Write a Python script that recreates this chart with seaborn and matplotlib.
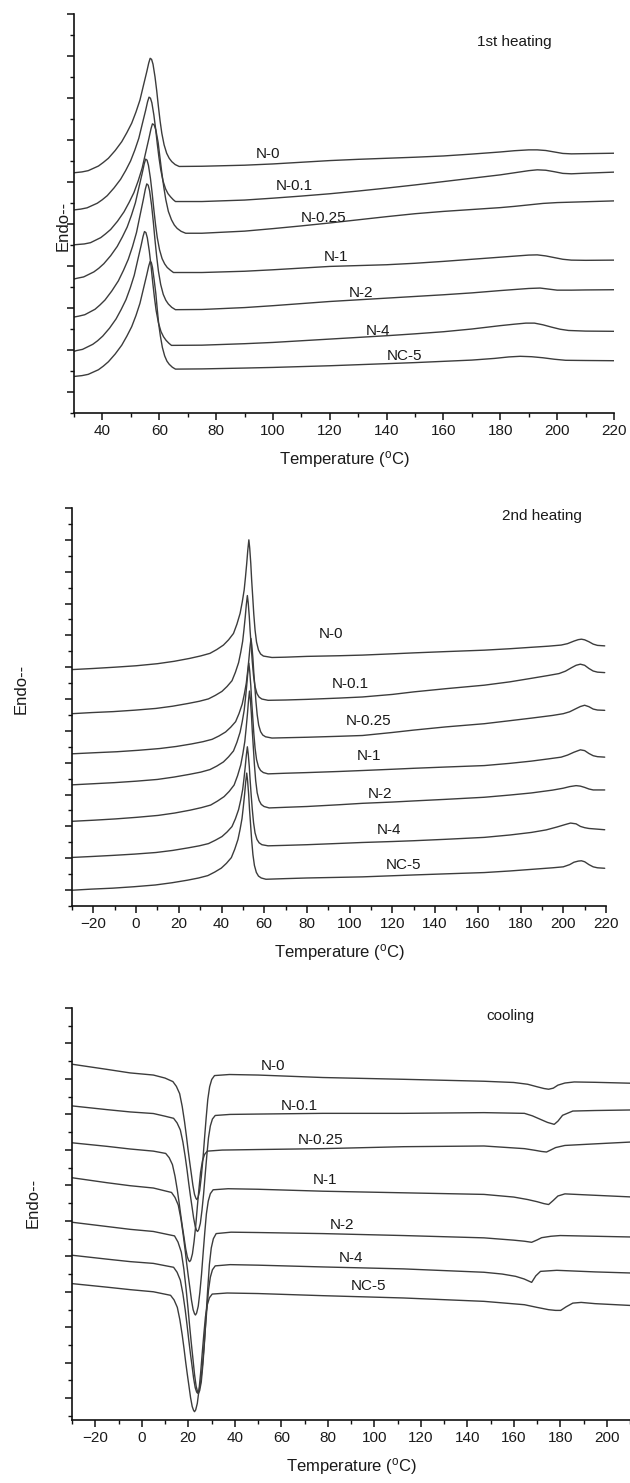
import numpy as np
import pandas as pd
import matplotlib
matplotlib.use("Agg")
import matplotlib.pyplot as plt
import seaborn as sns

samples = ["N-0", "N-0.1", "N-0.25", "N-1", "N-2", "N-4", "NC-5"]

# ---------------- 1st heating ----------------
h1_t_n0 = [30, 32.8, 35.0, 38.6, 40.3, 42.1, 44.5, 46.8, 48.6, 50.3, 51.8, 53.2, 54.4, 55.6, 56.3, 56.8,
           57.3, 57.8, 58.5, 59.1, 59.7, 60.3, 60.9, 61.7, 62.6, 63.5, 64.4, 65.6, 67.0,
           75, 90, 100, 110, 120, 130, 140, 150, 160, 170, 180, 185, 190, 193, 196, 199, 202, 205, 210, 220]
h1_y_n0 = [10.44, 10.48, 10.54, 10.76, 10.93, 11.13, 11.50, 11.92, 12.35, 12.80, 13.33, 13.90, 14.58, 15.25, 15.67, 15.89,
           15.84, 15.61, 15.01, 14.35, 13.59, 12.90, 12.32, 11.77, 11.37, 11.13, 10.97, 10.83, 10.74,
           10.75, 10.80, 10.86, 10.94, 11.02, 11.08, 11.13, 11.18, 11.24, 11.33, 11.43, 11.49, 11.53, 11.53, 11.50, 11.43, 11.36, 11.34, 11.35, 11.37]
h1_t_n01 = [30, 32.4, 34.6, 38.2, 39.9, 41.7, 44.1, 46.4, 48.2, 49.9, 51.4, 52.8, 54.0, 55.2, 55.9, 56.4,
            56.9, 57.4, 58.1, 58.7, 59.3, 59.9, 60.5, 61.3, 62.2, 63.1, 64.0, 64.9, 65.7,
            75, 90, 100, 110, 120, 130, 140, 150, 160, 170, 180, 185, 190, 193, 196, 199, 202, 205, 210, 220]
h1_y_n01 = [8.67, 8.71, 8.77, 8.99, 9.15, 9.35, 9.72, 10.13, 10.55, 11.00, 11.52, 12.08, 12.75, 13.41, 13.83, 14.04,
            13.99, 13.77, 13.19, 12.55, 11.82, 11.16, 10.60, 10.06, 9.68, 9.44, 9.29, 9.16, 9.07,
            9.07, 9.14, 9.23, 9.33, 9.44, 9.57, 9.71, 9.86, 10.02, 10.18, 10.34, 10.44, 10.54, 10.58, 10.56, 10.49, 10.41, 10.39, 10.42, 10.47]
h1_t_n025 = [30, 33.6, 35.8, 39.4, 41.1, 42.9, 45.3, 47.6, 49.4, 51.1, 52.6, 54.0, 55.2, 56.4, 57.1, 57.6,
             58.2, 58.8, 59.6, 60.2, 60.9, 61.6, 62.3, 63.2, 64.3, 65.3, 66.3, 67.7, 69.3,
             75, 90, 100, 110, 120, 130, 140, 150, 160, 170, 180, 185, 190, 195, 200, 210, 220]
h1_y_n025 = [7.01, 7.05, 7.11, 7.35, 7.53, 7.74, 8.13, 8.58, 9.03, 9.50, 10.06, 10.67, 11.39, 12.10, 12.54, 12.77,
             12.72, 12.48, 11.88, 11.21, 10.44, 9.75, 9.16, 8.60, 8.20, 7.95, 7.79, 7.65, 7.56,
             7.56, 7.66, 7.78, 7.91, 8.05, 8.20, 8.35, 8.49, 8.60, 8.69, 8.78, 8.84, 8.91, 8.98, 9.02, 9.06, 9.10]
h1_t_n1 = [30, 31.2, 33.4, 37.0, 38.7, 40.5, 42.9, 45.2, 47.0, 48.7, 50.2, 51.6, 52.8, 54.0, 54.7, 55.2,
           55.7, 56.2, 56.9, 57.5, 58.1, 58.7, 59.3, 60.1, 61.0, 61.9, 62.8, 64.0, 65.0,
           75, 90, 100, 110, 120, 130, 140, 150, 160, 170, 180, 185, 190, 193, 196, 199, 202, 205, 210, 220]
h1_y_n1 = [5.38, 5.42, 5.48, 5.72, 5.89, 6.11, 6.49, 6.93, 7.38, 7.85, 8.41, 9.01, 9.72, 10.42, 10.86, 11.09,
           11.04, 10.79, 10.17, 9.47, 8.68, 7.96, 7.35, 6.77, 6.35, 6.10, 5.93, 5.79, 5.69,
           5.69, 5.75, 5.82, 5.90, 5.98, 6.02, 6.06, 6.13, 6.22, 6.32, 6.42, 6.47, 6.52, 6.53, 6.48, 6.40, 6.32, 6.28, 6.27, 6.28]
h1_t_n2 = [30, 31.6, 33.8, 37.4, 39.1, 40.9, 43.3, 45.6, 47.4, 49.1, 50.6, 52.0, 53.2, 54.4, 55.1, 55.6,
           56.1, 56.6, 57.3, 57.9, 58.5, 59.1, 59.7, 60.5, 61.4, 62.3, 63.2, 64.4, 65.7,
           75, 90, 100, 110, 120, 130, 140, 150, 160, 170, 180, 185, 190, 194, 197, 200, 205, 210, 220]
h1_y_n2 = [3.57, 3.61, 3.68, 3.94, 4.14, 4.38, 4.81, 5.29, 5.79, 6.32, 6.93, 7.60, 8.39, 9.17, 9.66, 9.91,
           9.85, 9.58, 8.89, 8.11, 7.23, 6.44, 5.76, 5.12, 4.65, 4.37, 4.19, 4.03, 3.92,
           3.93, 4.02, 4.11, 4.21, 4.31, 4.39, 4.47, 4.55, 4.63, 4.72, 4.83, 4.88, 4.93, 4.95, 4.90, 4.85, 4.85, 4.86, 4.87]
h1_t_n4 = [30, 30.8, 33.0, 36.6, 38.3, 40.1, 42.5, 44.8, 46.6, 48.3, 49.8, 51.2, 52.4, 53.6, 54.3, 54.8,
           55.3, 55.8, 56.5, 57.1, 57.7, 58.3, 58.9, 59.7, 60.6, 61.5, 62.4, 63.4, 64.3,
           75, 90, 100, 110, 120, 130, 140, 150, 160, 170, 180, 185, 189, 192, 195, 198, 201, 204, 210, 220]
h1_y_n4 = [1.93, 1.97, 2.03, 2.27, 2.44, 2.66, 3.04, 3.48, 3.93, 4.40, 4.96, 5.56, 6.27, 6.97, 7.41, 7.64,
           7.59, 7.34, 6.71, 6.01, 5.22, 4.50, 3.88, 3.30, 2.88, 2.63, 2.46, 2.32, 2.22,
           2.23, 2.30, 2.36, 2.44, 2.52, 2.60, 2.68, 2.77, 2.87, 3.00, 3.16, 3.23, 3.28, 3.28, 3.20, 3.09, 2.99, 2.93, 2.90, 2.89]
h1_t_nc5 = [30, 32.8, 35.0, 38.6, 40.3, 42.1, 44.5, 46.8, 48.6, 50.3, 51.8, 53.2, 54.4, 55.6, 56.3, 56.8,
            57.2, 57.6, 58.2, 58.8, 59.3, 59.8, 60.4, 61.1, 61.9, 62.7, 63.5, 64.6, 65.7,
            75, 90, 100, 110, 120, 130, 140, 150, 160, 170, 178, 183, 187, 191, 195, 199, 203, 210, 220]
h1_y_nc5 = [0.74, 0.78, 0.84, 1.06, 1.23, 1.44, 1.81, 2.23, 2.66, 3.11, 3.64, 4.22, 4.90, 5.58, 6.00, 6.22,
            6.17, 5.94, 5.34, 4.68, 3.93, 3.24, 2.66, 2.12, 1.72, 1.47, 1.32, 1.18, 1.09,
            1.10, 1.14, 1.17, 1.21, 1.25, 1.30, 1.35, 1.40, 1.46, 1.52, 1.60, 1.67, 1.70, 1.68, 1.63, 1.56, 1.51, 1.50, 1.49]
h1_label_t = [94, 100.9, 109.8, 117.8, 126.6, 132.5, 139.9]
h1_label_y = [11.34, 9.82, 8.28, 6.45, 4.71, 2.92, 1.73]

# ---------------- 2nd heating ----------------
h2_t_n0 = [-30, -20, -10, 0, 10, 17.8, 25, 30.3, 34.6, 37.8, 40.9, 43.3, 45.6, 47.2, 48.7, 49.7, 50.6, 51.2, 51.8, 52.3, 52.8,
           53.2, 53.7, 54.1, 54.6, 55.1, 55.7, 56.4, 57.3, 58.3, 59.6, 63.6,
           70, 80, 95, 106, 120, 130, 145, 163, 175, 185, 193, 199, 202, 205, 207, 208.5, 210, 212, 214, 216, 219.4]
h2_y_n0 = [13.85, 13.92, 14.00, 14.09, 14.22, 14.37, 14.55, 14.71, 14.87, 15.11, 15.39, 15.72, 16.12, 16.70, 17.38, 18.09, 18.85, 19.64, 20.52, 21.35, 22.0,
           21.48, 20.52, 19.49, 18.43, 17.34, 16.33, 15.57, 15.08, 14.83, 14.70, 14.61,
           14.63, 14.68, 14.72, 14.76, 14.84, 14.90, 14.98, 15.07, 15.16, 15.25, 15.32, 15.39, 15.48, 15.64, 15.73, 15.76, 15.72, 15.60, 15.45, 15.37, 15.34]
h2_t_n01 = [-30, -20.7, -10.7, -0.7, 9.3, 17.1, 24.3, 29.6, 33.9, 37.1, 40.2, 42.6, 44.9, 46.5, 48.0, 49.0, 49.9, 50.5, 51.1, 51.6, 52.1,
            52.5, 53.0, 53.4, 53.9, 54.4, 55.0, 55.7, 56.6, 57.6, 58.9, 61.8,
            70, 80, 95, 106, 120, 130, 145, 163, 175, 185, 193, 198, 201, 204, 206, 208, 210, 212, 214, 216, 219.4]
h2_y_n01 = [11.08, 11.15, 11.21, 11.30, 11.41, 11.55, 11.72, 11.86, 12.01, 12.23, 12.48, 12.79, 13.15, 13.68, 14.29, 14.94, 15.63, 16.35, 17.15, 17.91, 18.50,
            18.04, 17.18, 16.26, 15.32, 14.35, 13.45, 12.78, 12.34, 12.12, 12.00, 11.92,
            11.94, 11.98, 12.06, 12.13, 12.29, 12.45, 12.65, 12.87, 13.08, 13.30, 13.48, 13.60, 13.75, 13.98, 14.12, 14.19, 14.12, 13.92, 13.76, 13.69, 13.66]
h2_t_n025 = [-30, -19.0, -9.0, 1.0, 11.0, 18.8, 26.0, 31.3, 35.6, 38.8, 41.9, 44.3, 46.6, 48.2, 49.7, 50.7, 51.6, 52.2, 52.8, 53.3, 53.8,
             54.2, 54.7, 55.1, 55.6, 56.1, 56.7, 57.4, 58.3, 59.3, 60.6, 63.6,
             70, 80, 95, 106, 120, 130, 145, 163, 175, 185, 195, 200, 203, 206, 208, 210, 212, 214, 216, 219.4]
h2_y_n025 = [8.56, 8.63, 8.69, 8.78, 8.89, 9.02, 9.18, 9.32, 9.47, 9.68, 9.93, 10.23, 10.58, 11.09, 11.69, 12.32, 13.0, 13.70, 14.48, 15.22, 15.8,
             15.36, 14.55, 13.68, 12.78, 11.86, 11.01, 10.36, 9.95, 9.74, 9.63, 9.55,
             9.57, 9.60, 9.66, 9.71, 9.90, 10.05, 10.25, 10.45, 10.64, 10.80, 10.97, 11.08, 11.20, 11.40, 11.53, 11.61, 11.52, 11.37, 11.31, 11.29]
h2_t_n1 = [-30, -20, -10, 0, 10, 17.8, 25, 30.3, 34.6, 37.8, 40.9, 43.3, 45.6, 47.2, 48.7, 49.7, 50.6, 51.2, 51.8, 52.3, 52.8,
           53.2, 53.7, 54.1, 54.6, 55.1, 55.7, 56.4, 57.3, 58.3, 59.6, 61.8,
           70, 80, 95, 106, 120, 130, 145, 163, 175, 185, 193, 199, 202, 205, 208, 210, 212, 214, 216, 219.4]
h2_y_n1 = [6.61, 6.68, 6.75, 6.84, 6.95, 7.10, 7.27, 7.41, 7.57, 7.79, 8.05, 8.37, 8.74, 9.28, 9.92, 10.58, 11.29, 12.03, 12.86, 13.64, 14.25,
           13.76, 12.86, 11.89, 10.89, 9.87, 8.92, 8.20, 7.74, 7.51, 7.38, 7.30,
           7.34, 7.38, 7.45, 7.51, 7.59, 7.65, 7.73, 7.82, 7.96, 8.10, 8.24, 8.35, 8.48, 8.66, 8.81, 8.76, 8.58, 8.44, 8.38, 8.35]
h2_t_n2 = [-30, -19.7, -9.7, 0.3, 10.3, 18.1, 25.3, 30.6, 34.9, 38.1, 41.2, 43.6, 45.9, 47.5, 49.0, 50.0, 50.9, 51.5, 52.1, 52.6, 53.1,
           53.5, 54.0, 54.4, 54.9, 55.4, 56.0, 56.7, 57.6, 58.6, 59.9, 62.3,
           70, 80, 95, 106, 120, 130, 145, 163, 175, 185, 195, 200, 203, 206, 208, 210, 212, 214, 219.4]
h2_y_n2 = [4.32, 4.39, 4.47, 4.57, 4.69, 4.84, 5.02, 5.18, 5.34, 5.59, 5.87, 6.20, 6.60, 7.18, 7.86, 8.57, 9.33, 10.13, 11.01, 11.85, 12.5,
           11.99, 11.03, 10.00, 8.95, 7.88, 6.87, 6.11, 5.63, 5.38, 5.25, 5.16,
           5.20, 5.25, 5.36, 5.45, 5.53, 5.60, 5.70, 5.83, 5.97, 6.10, 6.28, 6.40, 6.50, 6.56, 6.53, 6.45, 6.35, 6.29, 6.29]
h2_t_n4 = [-30, -20.7, -10.7, -0.7, 9.3, 17.1, 24.3, 29.6, 33.9, 37.1, 40.2, 42.6, 44.9, 46.5, 48.0, 49.0, 49.9, 50.5, 51.1, 51.6, 52.1,
           52.5, 53.0, 53.4, 53.9, 54.4, 55.0, 55.7, 56.6, 57.6, 58.9, 61.8,
           70, 80, 95, 106, 120, 130, 145, 163, 175, 185, 192, 197, 201, 203.4, 206, 208, 210, 212, 219.4]
h2_y_n4 = [2.05, 2.11, 2.18, 2.26, 2.36, 2.49, 2.65, 2.78, 2.92, 3.13, 3.36, 3.65, 3.99, 4.48, 5.06, 5.66, 6.31, 6.98, 7.74, 8.44, 9.0,
           8.56, 7.76, 6.89, 5.94, 5.08, 4.23, 3.59, 3.18, 2.97, 2.85, 2.78,
           2.81, 2.85, 2.93, 2.99, 3.05, 3.10, 3.19, 3.31, 3.46, 3.62, 3.78, 3.96, 4.12, 4.21, 4.16, 4.00, 3.92, 3.87, 3.79]
h2_t_nc5 = [-30, -21.0, -11.0, -1.0, 9.0, 16.8, 24.0, 29.3, 33.6, 36.8, 39.9, 42.3, 44.6, 46.2, 47.7, 48.7, 49.6, 50.2, 50.8, 51.3, 51.8,
            52.2, 52.7, 53.1, 53.6, 54.1, 54.7, 55.4, 56.3, 57.3, 58.6, 60.8,
            70, 80, 95, 106, 120, 130, 145, 163, 175, 185, 195, 200, 203, 205, 207, 208.5, 210, 212, 214, 216, 219.4]
h2_y_nc5 = [-0.01, 0.06, 0.12, 0.21, 0.32, 0.46, 0.62, 0.76, 0.91, 1.13, 1.38, 1.68, 2.04, 2.57, 3.18, 3.82, 4.50, 5.22, 6.01, 6.76, 7.35,
            6.88, 6.02, 5.08, 4.13, 3.15, 2.23, 1.55, 1.11, 0.88, 0.76, 0.68,
            0.72, 0.76, 0.80, 0.83, 0.90, 0.95, 1.02, 1.10, 1.20, 1.30, 1.40, 1.46, 1.60, 1.75, 1.82, 1.84, 1.78, 1.60, 1.46, 1.40, 1.37]
h2_label_t = [85.4, 91.4, 98.2, 103.3, 108.6, 112.7, 117.1]
h2_label_y = [16.08, 12.93, 10.62, 8.43, 6.04, 3.77, 1.56]

# ---------------- cooling ----------------
c_t_n0 = [-30, -15, -5, 5, 10, 13.4, 14.9, 16.3, 17.4, 18.4, 19.2, 19.9, 20.6, 21.3, 22.0, 22.7, 23.3, 23.7,
          24.2, 24.9, 25.6, 26.3, 27.0, 27.7, 28.4, 29.2, 30.1, 31.3, 37.7,
          50, 77.9, 112.6, 147.2, 160, 166, 170, 173, 175, 177, 179, 182, 186, 195, 210]
c_y_n0 = [18.83, 18.54, 18.34, 18.22, 18.05, 17.85, 17.58, 17.17, 16.45, 15.59, 14.79, 14.03, 13.33, 12.67, 12.0, 11.49, 11.27, 11.2,
          11.31, 11.69, 12.47, 13.46, 14.65, 15.80, 16.84, 17.56, 17.97, 18.19, 18.25,
          18.22, 18.08, 17.98, 17.87, 17.80, 17.70, 17.56, 17.46, 17.42, 17.48, 17.65, 17.77, 17.83, 17.81, 17.76]
c_t_n01 = [-30, -15, -5, 5, 10, 13.7, 15.2, 16.6, 17.7, 18.7, 19.5, 20.2, 20.9, 21.6, 22.3, 23.0, 23.6, 24.0,
           24.5, 25.2, 25.9, 26.6, 27.3, 28.0, 28.7, 29.5, 30.4, 31.6, 38,
           50, 77.9, 112.6, 147.2, 164.6, 168, 171.5, 174.5, 177.4, 179, 181, 185.4, 195, 210]
c_y_n01 = [16.48, 16.27, 16.14, 16.05, 15.9, 15.78, 15.52, 15.12, 14.44, 13.61, 12.85, 12.12, 11.44, 10.81, 10.17, 9.68, 9.46, 9.4,
           9.50, 9.86, 10.59, 11.51, 12.63, 13.70, 14.68, 15.35, 15.74, 15.94, 16.0,
           16.02, 16.06, 16.06, 16.10, 16.06, 15.92, 15.72, 15.55, 15.44, 15.62, 15.95, 16.19, 16.22, 16.25]
c_t_n025 = [-30, -15, -5, 5, 10.3, 11.8, 13.2, 14.3, 15.3, 16.1, 16.8, 17.5, 18.2, 18.9, 19.6, 20.2, 20.6,
            21.1, 21.8, 22.5, 23.2, 23.9, 24.6, 25.3, 26.1, 27.0, 28.2, 34.6,
            50, 77.9, 112.6, 147.2, 164.6, 169, 172, 174.1, 176, 178, 182, 195, 210]
c_y_n025 = [14.40, 14.2, 14.05, 13.93, 13.8, 13.56, 13.17, 12.52, 11.73, 11.0, 10.30, 9.65, 9.05, 8.43, 7.97, 7.76, 7.7,
            7.79, 8.14, 8.83, 9.71, 10.78, 11.80, 12.73, 13.37, 13.74, 13.93, 13.99,
            14.02, 14.07, 14.18, 14.22, 14.07, 13.98, 13.91, 13.88, 14.0, 14.13, 14.25, 14.34, 14.44]
c_t_n1 = [-30, -15, -5, 5, 12.8, 14.3, 15.7, 16.8, 17.8, 18.6, 19.3, 20.0, 20.7, 21.4, 22.1, 22.7, 23.1,
          23.6, 24.3, 25.0, 25.7, 26.4, 27.1, 27.8, 28.6, 29.5, 30.7, 37.1,
          50, 77.9, 112.6, 147.2, 160, 166, 170, 173, 175, 177, 179, 182, 190, 210]
c_y_n1 = [12.43, 12.15, 11.98, 11.85, 11.6, 11.32, 10.89, 10.15, 9.25, 8.42, 7.63, 6.90, 6.22, 5.52, 4.99, 4.76, 4.69,
          4.80, 5.19, 5.97, 6.97, 8.18, 9.33, 10.39, 11.11, 11.53, 11.75, 11.81,
          11.78, 11.67, 11.58, 11.49, 11.34, 11.20, 11.08, 10.97, 10.92, 11.15, 11.40, 11.52, 11.47, 11.35]
c_t_n2 = [-30, -15, -5, 5, 14.1, 15.6, 17.0, 18.1, 19.1, 19.9, 20.6, 21.3, 22.0, 22.7, 23.4, 24.0, 24.4,
          24.9, 25.6, 26.3, 27.0, 27.7, 28.4, 29.1, 29.9, 30.8, 32.0, 38.4,
          50, 77.9, 112.6, 147.2, 160, 164.6, 167.7, 170, 172, 176, 180, 195, 210]
c_y_n2 = [9.92, 9.68, 9.52, 9.40, 9.15, 8.80, 8.24, 7.29, 6.13, 5.07, 4.06, 3.12, 2.24, 1.34, 0.67, 0.37, 0.28,
          0.42, 0.92, 1.91, 3.19, 4.73, 6.20, 7.54, 8.47, 8.99, 9.28, 9.36,
          9.34, 9.28, 9.17, 9.04, 8.91, 8.85, 8.79, 8.92, 9.05, 9.13, 9.17, 9.13, 9.09]
c_t_n4 = [-30, -15, -5, 5, 13.7, 15.2, 16.6, 17.7, 18.7, 19.5, 20.2, 20.9, 21.6, 22.3, 23.0, 23.6, 24.0,
          24.5, 25.2, 25.9, 26.6, 27.3, 28.0, 28.7, 29.5, 30.4, 31.6, 38,
          50, 77.9, 112.6, 147.2, 155, 160.8, 164.5, 167.7, 169.5, 171.5, 178.5, 195, 210]
c_y_n4 = [8.06, 7.84, 7.70, 7.60, 7.38, 7.10, 6.65, 5.89, 4.97, 4.11, 3.30, 2.55, 1.85, 1.13, 0.59, 0.35, 0.28,
          0.39, 0.79, 1.58, 2.60, 3.83, 5.01, 6.08, 6.82, 7.24, 7.46, 7.53,
          7.50, 7.40, 7.29, 7.10, 7.0, 6.87, 6.72, 6.53, 6.90, 7.15, 7.21, 7.12, 7.06]
c_t_nc5 = [-30, -15, -5, 5, 12.4, 13.9, 15.3, 16.4, 17.4, 18.2, 18.9, 19.6, 20.3, 21.0, 21.7, 22.3, 22.7,
           23.2, 23.9, 24.6, 25.3, 26.0, 26.7, 27.4, 28.2, 29.1, 30.3, 36.7,
           50, 77.9, 112.6, 147.2, 164.6, 170, 175, 178, 180.2, 182.5, 185.4, 189, 195, 210]
c_y_nc5 = [6.46, 6.26, 6.12, 6.0, 5.80, 5.54, 5.12, 4.42, 3.57, 2.78, 2.03, 1.34, 0.69, 0.03, -0.47, -0.69, -0.76,
           -0.66, -0.29, 0.44, 1.38, 2.52, 3.60, 4.59, 5.27, 5.66, 5.87, 5.93,
           5.90, 5.78, 5.65, 5.46, 5.27, 5.12, 4.99, 4.95, 4.95, 5.15, 5.36, 5.40, 5.33, 5.23]
c_label_t = [51.1, 59.7, 67.2, 73.6, 81.0, 84.9, 89.7]
c_label_y = [18.74, 16.48, 14.56, 12.30, 9.79, 7.91, 6.34]

panel_titles = ["1st heating", "2nd heating", "cooling"]
title_t = [171.9, 171.3, 148.1]
title_y = [16.68, 23.47, 21.56]
xlims = [(30, 220), (-30, 220), (-30, 210)]
ylims = [(-1, 18), (-1, 24), (-1.23, 22)]
xmajor = [np.arange(40, 221, 20), np.arange(-20, 221, 20), np.arange(-20, 201, 20)]
xminor = [np.arange(30, 221, 10), np.arange(-30, 221, 10), np.arange(-30, 211, 10)]

curves = [
    [(h1_t_n0, h1_y_n0), (h1_t_n01, h1_y_n01), (h1_t_n025, h1_y_n025), (h1_t_n1, h1_y_n1),
     (h1_t_n2, h1_y_n2), (h1_t_n4, h1_y_n4), (h1_t_nc5, h1_y_nc5)],
    [(h2_t_n0, h2_y_n0), (h2_t_n01, h2_y_n01), (h2_t_n025, h2_y_n025), (h2_t_n1, h2_y_n1),
     (h2_t_n2, h2_y_n2), (h2_t_n4, h2_y_n4), (h2_t_nc5, h2_y_nc5)],
    [(c_t_n0, c_y_n0), (c_t_n01, c_y_n01), (c_t_n025, c_y_n025), (c_t_n1, c_y_n1),
     (c_t_n2, c_y_n2), (c_t_n4, c_y_n4), (c_t_nc5, c_y_nc5)],
]
label_pos = [(h1_label_t, h1_label_y), (h2_label_t, h2_label_y), (c_label_t, c_label_y)]

sns.set_theme(style="ticks")
plt.rcParams["font.family"] = ["Liberation Sans", "DejaVu Sans"]
plt.rcParams["mathtext.default"] = "regular"

fig = plt.figure(figsize=(6.3, 14.83), dpi=100)
rects = [
    [74 / 630, 1 - 413 / 1483, 540 / 630, 399 / 1483],
    [72 / 630, 1 - 906 / 1483, 534 / 630, 398 / 1483],
    [72 / 630, 1 - 1420 / 1483, 558 / 630, 412 / 1483],
]
ylabel_pos = [(-0.02, 0.47), (-0.095, 0.545), (-0.07, 0.527)]

line_color = "#3c3c3c"
for i in range(3):
    ax = fig.add_axes(rects[i])
    frames = []
    for name, (t, y) in zip(samples, curves[i]):
        frames.append(pd.DataFrame({"T": t, "y": y, "sample": name}))
    df = pd.concat(frames, ignore_index=True)
    sns.lineplot(data=df, x="T", y="y", units="sample", estimator=None, sort=False,
                 color=line_color, linewidth=1.0, ax=ax, legend=False)
    for name, lt, ly in zip(samples, label_pos[i][0], label_pos[i][1]):
        ax.text(lt, ly, name, fontsize=11, ha="left", va="center", color="#1a1a1a")
    ax.text(title_t[i], title_y[i], panel_titles[i], fontsize=11, ha="left", va="center", color="#1a1a1a")

    ax.set_xlim(*xlims[i])
    ax.set_ylim(*ylims[i])
    ax.set_xticks(xmajor[i])
    ax.set_xticks(xminor[i], minor=True)
    top = ylims[i][1]
    ax.set_yticks(np.arange(0, top + 0.01, 2))
    ax.set_yticks(np.arange(-1, top + 0.01, 2), minor=True)
    ax.tick_params(axis="y", labelleft=False)
    ax.tick_params(axis="both", which="major", direction="out", length=5, width=1.1, color="#111111")
    ax.tick_params(axis="both", which="minor", direction="out", length=3, width=1.0, color="#111111")
    ax.tick_params(axis="x", labelsize=11, pad=3, labelcolor="#1a1a1a")
    for s in ["top", "right"]:
        ax.spines[s].set_visible(False)
    for s in ["left", "bottom"]:
        ax.spines[s].set_linewidth(1.2)
        ax.spines[s].set_color("#111111")
    ax.set_xlabel("Temperature ($^{o}$C)", fontsize=12, labelpad=8, color="#1a1a1a")
    ax.set_ylabel("Endo--", fontsize=12, color="#1a1a1a", va="center")
    ax.yaxis.set_label_coords(*ylabel_pos[i])
    ax.grid(False)

fig.savefig("out.png", dpi=100, facecolor="white")
